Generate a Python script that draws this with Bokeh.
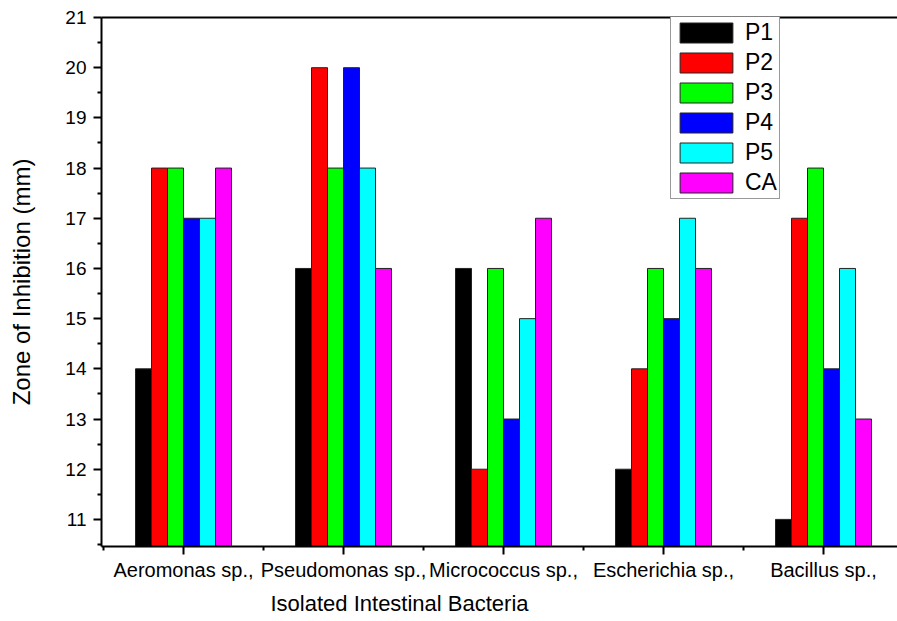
from bokeh.plotting import figure
from bokeh.models import (FixedTicker, LinearAxis, Legend, LegendItem, Title,
                          Range1d)
from bokeh.embed import file_html
from bokeh.resources import INLINE

bacteria = ["Aeromonas sp.,", "Pseudomonas sp.,", "Micrococcus sp.,",
            "Escherichia sp.,", "Bacillus sp.,"]
series = ["P1", "P2", "P3", "P4", "P5", "CA"]
P1 = [14, 16, 16, 12, 11]
P2 = [18, 20, 12, 14, 17]
P3 = [18, 18, 16, 16, 18]
P4 = [17, 20, 13, 15, 14]
P5 = [17, 18, 15, 17, 16]
CA = [18, 16, 17, 16, 13]
values = [P1, P2, P3, P4, P5, CA]
colors = ["#000000", "#FF0000", "#00FF00", "#0000FF", "#00FFFF", "#FF00FF"]
y_ticks = list(range(11, 22))
y_minor = [t - 0.5 for t in y_ticks]

FONT = "Liberation Sans"

p = figure(width=897, height=621, x_range=Range1d(0.4875, 5.4625),
           y_range=Range1d(10.46, 21), output_backend="svg",
           toolbar_location=None, min_border_left=101, min_border_right=0,
           min_border_top=17, min_border_bottom=73)
p.xgrid.visible = False
p.ygrid.visible = False
p.outline_line_color = None
p.background_fill_color = "white"
p.border_fill_color = "white"

positions = list(range(1, len(bacteria) + 1))
n = len(series)
bw = 0.1
items = []
for i, (name, vals, col) in enumerate(zip(series, values, colors)):
    xs = [g + (i - (n - 1) / 2) * bw for g in positions]
    r = p.vbar(x=xs, top=vals, bottom=10, width=bw, fill_color=col,
               line_color="#222222", line_width=1)
    items.append(LegendItem(label=name, renderers=[r]))

# x axis
xa = p.xaxis[0]
xa.ticker = FixedTicker(ticks=positions,
                        minor_ticks=[g - 0.5 for g in positions] + [positions[-1] + 0.5])
xa.major_label_overrides = {g: b for g, b in zip(positions, bacteria)}
xa.major_label_text_font = FONT
xa.major_label_text_font_size = "20px"
xa.major_label_text_color = "black"
xa.major_label_standoff = 4
xa.axis_line_width = 2
xa.major_tick_line_width = 2
xa.minor_tick_line_width = 2
xa.major_tick_out = 8
xa.major_tick_in = 0
xa.minor_tick_out = 4
xa.minor_tick_in = 0

# y axis
ya = p.yaxis[0]
ya.ticker = FixedTicker(ticks=y_ticks, minor_ticks=y_minor)
ya.major_label_text_font = FONT
ya.major_label_text_font_size = "19px"
ya.major_label_text_color = "black"
ya.major_label_standoff = 7
ya.axis_line_width = 2
ya.major_tick_line_width = 2
ya.minor_tick_line_width = 2
ya.major_tick_out = 8
ya.major_tick_in = 0
ya.minor_tick_out = 4
ya.minor_tick_in = 0
ya.axis_label = "Zone of Inhibition (mm)"
ya.axis_label_text_font = FONT
ya.axis_label_text_font_size = "24px"
ya.axis_label_text_font_style = "normal"
ya.axis_label_text_color = "black"
ya.axis_label_standoff = 27

# top frame line
top = LinearAxis(ticker=FixedTicker(ticks=[]), major_label_text_font_size="0px",
                 axis_line_width=2, major_tick_out=0, major_tick_in=0,
                 minor_tick_out=0, minor_tick_in=0, major_label_standoff=0)
p.add_layout(top, "above")

# x axis title
p.add_layout(Title(text="Isolated Intestinal Bacteria", align="left", offset=169,
                   text_font=FONT, text_font_size="22px",
                   text_font_style="normal", text_color="black", standoff=11),
             "below")

legend = Legend(items=items, location=(569, 347), orientation="vertical")
legend.glyph_width = 66
legend.glyph_height = 25
legend.label_height = 20
legend.spacing = 3
legend.padding = 2
legend.margin = 0
legend.label_standoff = 6
legend.label_text_font = FONT
legend.label_text_font_size = "23px"
legend.label_text_color = "black"
legend.border_line_color = "#333333"
legend.border_line_width = 1
legend.background_fill_alpha = 1.0
p.add_layout(legend)

open("out.html", "w").write(file_html(p, INLINE))
